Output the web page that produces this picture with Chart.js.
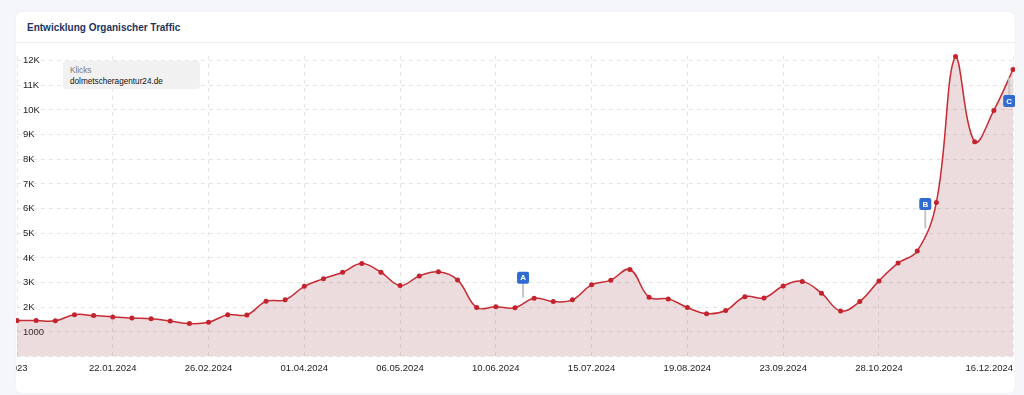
<!DOCTYPE html>
<html lang="de">
<head>
<meta charset="utf-8">
<title>Entwicklung Organischer Traffic</title>
<script src="https://cdn.jsdelivr.net/npm/chart.js@4.4.1/dist/chart.umd.min.js"></script>
<style>
    html, body { margin: 0; padding: 0; background: #f4f6f9; }
    body { width: 1024px; height: 395px; position: relative; overflow: hidden; font-family: "Liberation Sans", Arial, sans-serif; }
    .card {
        position: absolute; left: 16px; top: 12px; width: 999px; height: 381px;
        background: #fff; border-radius: 6px; overflow: hidden;
        box-shadow: 0 0 2px rgba(0, 0, 0, .06);
    }
    .card-head {
        height: 31px; border-bottom: 1px solid #eceef2; box-sizing: border-box;
        padding: 10px 0 0 11px; font-size: 10px; font-weight: bold; color: #1d3461;
    }
    .chart-box { position: absolute; left: 0; top: 32px; width: 999px; height: 349px; }
    .legend-box {
        position: absolute; left: 47px; top: 49px; width: 137px; height: 28px;
        background: #f1f1f1; border-radius: 3px; box-sizing: border-box; padding: 4px 0 0 7px;
        line-height: 11px;
    }
    .legend-box .k { font-size: 8.2px; color: #7a7a7a; }
    .legend-box .d { font-size: 8.2px; color: #111; }
</style>
</head>
<body>
<div class="card">
    <div class="card-head">Entwicklung Organischer Traffic</div>
    <div class="chart-box"><canvas id="trafficChart" width="999" height="349"></canvas></div>
    <div class="legend-box"><div class="k">Klicks</div><div class="d">dolmetscheragentur24.de</div></div>
</div>
<script>
'use strict';

// ── Daten ─────────────────────────────────────────────────
const weeks = [
    '18.12.2023', '25.12.2023', '01.01.2024', '08.01.2024', '15.01.2024', '22.01.2024',
    '29.01.2024', '05.02.2024', '12.02.2024', '19.02.2024', '26.02.2024', '04.03.2024',
    '11.03.2024', '18.03.2024', '25.03.2024', '01.04.2024', '08.04.2024', '15.04.2024',
    '22.04.2024', '29.04.2024', '06.05.2024', '13.05.2024', '20.05.2024', '27.05.2024',
    '03.06.2024', '10.06.2024', '17.06.2024', '24.06.2024', '01.07.2024', '08.07.2024',
    '15.07.2024', '22.07.2024', '29.07.2024', '05.08.2024', '12.08.2024', '19.08.2024',
    '26.08.2024', '02.09.2024', '09.09.2024', '16.09.2024', '23.09.2024', '30.09.2024',
    '07.10.2024', '14.10.2024', '21.10.2024', '28.10.2024', '04.11.2024', '11.11.2024',
    '18.11.2024', '25.11.2024', '02.12.2024', '09.12.2024', '16.12.2024'
];

const clicks = [
    1460, 1460, 1450, 1700, 1665, 1610, 1560, 1535, 1445, 1340,
    1390, 1700, 1690, 2240, 2300, 2850, 3160, 3420, 3770, 3420,
    2880, 3270, 3440, 3110, 1990, 2020, 1980, 2370, 2230, 2300,
    2910, 3100, 3530, 2410, 2340, 1990, 1740, 1870, 2430, 2380,
    2860, 3050, 2570, 1850, 2230, 3070, 3790, 4280, 6250, 12170,
    8710, 9980, 11640
];

// Wochen mit Beschriftung auf der x-Achse
const labelWeeks = [0, 5, 10, 15, 20, 25, 30, 35, 40, 45, 52];

// y-Achse
const yTicks = [0, 1000, 2000, 3000, 4000, 5000, 6000, 7000, 8000, 9000, 10000, 11000, 12000];
const yMax = 12200;

// Ereignis-Marker (Position in Wochen, Wert der Box, Wert am Ende des Stiels)
const markerLabels = ['A', 'B', 'C'];
const markerWeeks  = [26.42, 47.42, 51.8];
const markerValues = [3200, 6190, 10360];
const markerStemTo = [2390, 5200, 11300];

// ── Helfer ───────────────────────────────────────────────
const NBSP = '\u00a0';

function formatYTick(v) {
    if (v === 0) return '';
    if (v < 2000) return String(v);
    return (v / 1000) + 'K';
}

function formatXTick(index) {
    const label = weeks[index];
    // Randbeschriftungen wie im Original nach links versetzt
    if (index === 0) return label + NBSP.repeat(10);
    if (index === weeks.length - 1) return label + NBSP.repeat(18);
    return label;
}

// ── Marker-Plugin ────────────────────────────────────────
const markerPlugin = {
    id: 'markers',
    afterDatasetsDraw(chart) {
        const { ctx, scales: { x, y } } = chart;
        ctx.save();
        markerLabels.forEach((label, i) => {
            const px = x.getPixelForValue(markerWeeks[i]);
            const py = y.getPixelForValue(markerValues[i]);
            const stemY = y.getPixelForValue(markerStemTo[i]);

            ctx.strokeStyle = '#c6c6c6';
            ctx.lineWidth = 2;
            ctx.beginPath();
            ctx.moveTo(px, py);
            ctx.lineTo(px, stemY);
            ctx.stroke();

            ctx.fillStyle = '#2f6bd0';
            ctx.beginPath();
            ctx.roundRect(px - 6, py - 6, 12, 12, 2);
            ctx.fill();

            ctx.fillStyle = '#fff';
            ctx.font = 'bold 8px "Liberation Sans", Arial, sans-serif';
            ctx.textAlign = 'center';
            ctx.textBaseline = 'middle';
            ctx.fillText(label, px, py + 0.5);
        });
        ctx.restore();
    }
};

// ── Diagramm ─────────────────────────────────────────────
Chart.defaults.font.family = '"Liberation Sans", Arial, sans-serif';
Chart.defaults.color = '#222';

new Chart(document.getElementById('trafficChart'), {
    type: 'line',
    data: {
        labels: weeks,
        datasets: [{
            label: 'Klicks',
            data: clicks,
            borderColor: '#c92a33',
            borderWidth: 1.5,
            backgroundColor: 'rgba(160, 80, 85, 0.2)',
            fill: 'origin',
            tension: 0.4,
            pointRadius: 2.5,
            pointBackgroundColor: '#c4232d',
            pointBorderWidth: 0,
            clip: false,
        }]
    },
    options: {
        responsive: false,
        animation: false,
        layout: { autoPadding: false, padding: { left: 1, right: 2, top: 6, bottom: 13 } },
        plugins: { legend: { display: false }, tooltip: { enabled: false } },
        scales: {
            x: {
                offset: false,
                border: { display: false, dash: [4, 4] },
                grid: { color: '#e4e4e4', drawTicks: false },
                afterBuildTicks: axis => {
                    axis.ticks = axis.ticks.filter(t => labelWeeks.includes(t.value));
                },
                // keine automatische Randreserve für die Beschriftungen
                afterFit: axis => { axis.paddingLeft = 0; axis.paddingRight = 0; },
                ticks: {
                    autoSkip: false, maxRotation: 0, padding: 6,
                    font: { size: 9.5 }, color: '#222',
                    callback: v => formatXTick(v)
                }
            },
            y: {
                min: 0, max: yMax,
                border: { display: false, dash: [4, 4] },
                grid: { color: '#e4e4e4', drawTicks: false },
                afterBuildTicks: axis => {
                    axis.ticks = yTicks.map(v => ({ value: v }));
                },
                afterFit: axis => { axis.width = 0; },
                ticks: {
                    mirror: true, padding: 6,
                    font: { size: 9.5 }, color: '#222',
                    callback: v => formatYTick(v)
                }
            }
        }
    },
    plugins: [markerPlugin]
});
</script>
</body>
</html>
